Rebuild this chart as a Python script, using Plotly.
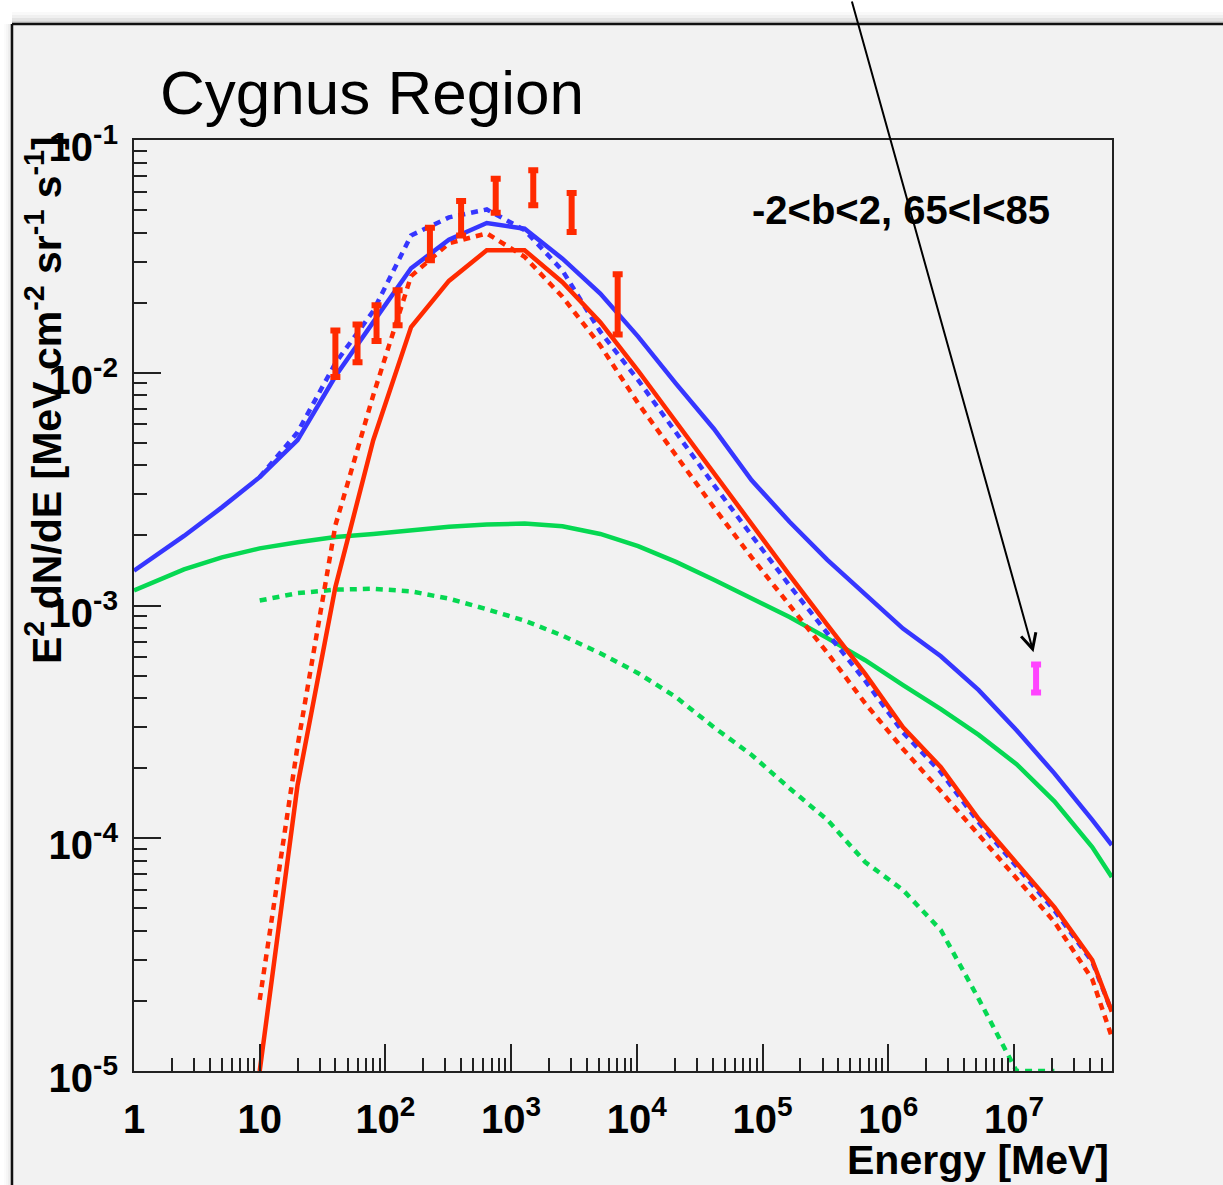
import numpy as np
import plotly.graph_objects as go

# ---------------- data ----------------
energy = [1, 2.5, 5, 10, 20, 40, 80, 160, 320, 640, 1280, 2560, 5120, 10240,
          20480, 40960, 81920, 163840, 327680, 655360, 1310720, 2621440,
          5242880, 10485760, 20971520, 41943040, 6.0e7]

total_solid = [1.41e-3, 1.99e-3, 2.64e-3, 3.56e-3, 5.13e-3, 9.66e-3, 1.65e-2,
               2.81e-2, 3.73e-2, 4.40e-2, 4.16e-2, 3.09e-2, 2.19e-2, 1.43e-2,
               8.98e-3, 5.75e-3, 3.45e-3, 2.29e-3, 1.57e-3, 1.11e-3, 7.96e-4,
               6.05e-4, 4.33e-4, 2.91e-4, 1.90e-4, 1.20e-4, 9.35e-5]

total_dotted = [None, None, None, 3.56e-3, 5.55e-3, 1.10e-2, 1.84e-2, 3.89e-2,
                4.65e-2, 5.03e-2, 4.10e-2, 2.75e-2, 1.50e-2, 9.3e-3, 5.5e-3,
                3.3e-3, 2.0e-3, 1.22e-3, 7.6e-4, 4.75e-4, 2.85e-4, 1.92e-4,
                1.17e-4, 7.6e-5, 4.9e-5, 2.95e-5, 1.8e-5]

pi0_solid = [None, None, None, 1.0e-5, 1.69e-4, 1.20e-3, 5.13e-3, 1.57e-2,
             2.48e-2, 3.36e-2, 3.36e-2, 2.45e-2, 1.65e-2, 1.02e-2, 6.13e-3,
             3.69e-3, 2.22e-3, 1.35e-3, 8.26e-4, 5.08e-4, 3.0e-4, 2.02e-4,
             1.21e-4, 7.80e-5, 5.06e-5, 3.0e-5, 1.80e-5]

pi0_dotted = [None, None, None, 2.02e-5, 2.49e-4, 2.21e-3, 8.0e-3, 2.60e-2,
              3.60e-2, 3.97e-2, 3.15e-2, 2.12e-2, 1.31e-2, 7.39e-3, 4.42e-3,
              2.64e-3, 1.61e-3, 1.0e-3, 6.26e-4, 3.80e-4, 2.42e-4, 1.59e-4,
              1.03e-4, 6.71e-5, 4.37e-5, 2.48e-5, 1.40e-5]

ic_solid = [1.16e-3, 1.43e-3, 1.61e-3, 1.76e-3, 1.87e-3, 1.97e-3, 2.03e-3,
            2.10e-3, 2.18e-3, 2.23e-3, 2.25e-3, 2.19e-3, 2.03e-3, 1.80e-3,
            1.54e-3, 1.29e-3, 1.07e-3, 8.93e-4, 7.24e-4, 5.82e-4, 4.55e-4,
            3.59e-4, 2.78e-4, 2.08e-4, 1.44e-4, 9.16e-5, 6.81e-5]

ic_dotted = [None, None, None, 1.05e-3, 1.13e-3, 1.17e-3, 1.18e-3, 1.15e-3,
             1.07e-3, 9.64e-4, 8.61e-4, 7.42e-4, 6.24e-4, 5.12e-4, 4.04e-4,
             3.00e-4, 2.28e-4, 1.64e-4, 1.20e-4, 7.90e-5, 5.99e-5, 4.03e-5,
             2.04e-5, 1.0e-5, 1.0e-5, None, None]

egret_E = [40, 60, 85, 125, 226, 400, 754, 1500, 3030, 7040]
egret_lo = [9.59e-3, 1.11e-2, 1.37e-2, 1.60e-2, 3.04e-2, 3.89e-2, 4.87e-2,
            5.24e-2, 4.02e-2, 1.46e-2]
egret_hi = [1.52e-2, 1.61e-2, 1.95e-2, 2.26e-2, 4.20e-2, 5.47e-2, 6.82e-2,
            7.41e-2, 5.92e-2, 2.65e-2]

milagro_E = [1.5e7]
milagro_lo = [4.23e-4]
milagro_hi = [5.58e-4]

x_tickvals = [1, 10, 1e2, 1e3, 1e4, 1e5, 1e6, 1e7]
x_ticktext = ["1", "10", "10<sup>2</sup>", "10<sup>3</sup>", "10<sup>4</sup>",
              "10<sup>5</sup>", "10<sup>6</sup>", "10<sup>7</sup>"]
y_tickvals = [1e-5, 1e-4, 1e-3, 1e-2, 1e-1]
y_ticktext = ["10<sup>-5</sup>", "10<sup>-4</sup>", "10<sup>-3</sup>",
              "10<sup>-2</sup>", "10<sup>-1</sup>"]

title_text = "Cygnus Region"
region_text = "-2&lt;b&lt;2, 65&lt;l&lt;85"
x_title = "Energy [MeV]"
y_title = "E<sup>2</sup> dN/dE [MeV cm<sup>-2</sup> sr<sup>-1</sup> s<sup>-1</sup>]"

# ---------------- styling ----------------
BLUE = "#3636ff"
RED = "#ff2a00"
GREEN = "#06d852"
MAGENTA = "#ff44ff"
BG = "#f2f2f2"
FONT = "Liberation Sans"
DOTS = "7px,6px"

W, H = 1223, 1185
ML, MR, MT, MB = 134, 111, 140, 114
PW, PH = W - ML - MR, H - MT - MB


def px_x(p):
    return (p - ML) / PW


def px_y(p):
    return (H - MB - p) / PH


fig = go.Figure()


def curve(y, color, dash):
    fig.add_trace(go.Scatter(x=energy, y=y, mode="lines",
                             line=dict(color=color, width=4.5, dash=dash),
                             showlegend=False, hoverinfo="skip"))


curve(ic_dotted, GREEN, DOTS)
curve(ic_solid, GREEN, "solid")
curve(pi0_dotted, RED, DOTS)
curve(total_dotted, BLUE, DOTS)
curve(pi0_solid, RED, "solid")
curve(total_solid, BLUE, "solid")


def points(E, lo, hi, color):
    mid = [float(np.sqrt(a * b)) for a, b in zip(lo, hi)]
    fig.add_trace(go.Scatter(
        x=E, y=mid, mode="markers",
        marker=dict(size=1, color=color),
        error_y=dict(type="data", symmetric=False,
                     array=[h - m for h, m in zip(hi, mid)],
                     arrayminus=[m - l for m, l in zip(mid, lo)],
                     color=color, thickness=6, width=5),
        showlegend=False, hoverinfo="skip"))


points(egret_E, egret_lo, egret_hi, RED)
points(milagro_E, milagro_lo, milagro_hi, MAGENTA)

minor_x = [m * 10 ** k for k in range(0, 8) for m in range(2, 10) if m * 10 ** k < 6e7]
minor_y = [m * 10.0 ** k for k in range(-5, -1) for m in range(2, 10)]

axis_common = dict(
    type="log", showgrid=False, zeroline=False,
    showline=True, linewidth=2, linecolor="#222", mirror=True,
    ticks="inside", tickwidth=2, tickcolor="#222", ticklen=27,
    tickfont=dict(family=FONT, size=40, color="black", weight="bold"),
)

fig.update_xaxes(
    range=[0, 7.78], tickmode="array", tickvals=x_tickvals, ticktext=x_ticktext,
    ticklabelstandoff=12,
    minor=dict(tickmode="array", tickvals=minor_x, ticks="inside", ticklen=13,
               tickwidth=2, tickcolor="#222", showgrid=False),
    **axis_common)
fig.update_yaxes(
    range=[-5, -1], tickmode="array", tickvals=y_tickvals, ticktext=y_ticktext,
    ticklabelstandoff=6, ticklabelshift=7,
    minor=dict(tickmode="array", tickvals=minor_y, ticks="inside", ticklen=13,
               tickwidth=2, tickcolor="#222", showgrid=False),
    **axis_common)

shapes = []
# white surroundings outside the canvas frame
shapes.append(dict(type="rect", xref="paper", yref="paper", layer="above",
                   x0=px_x(-5), x1=px_x(W + 5), y0=px_y(24), y1=px_y(-5),
                   fillcolor="white", line=dict(width=0)))
shapes.append(dict(type="rect", xref="paper", yref="paper", layer="above",
                   x0=px_x(-5), x1=px_x(12), y0=px_y(H + 5), y1=px_y(-5),
                   fillcolor="white", line=dict(width=0)))
# soft shadow
for i, a in enumerate([0.025, 0.035, 0.05, 0.07]):
    shapes.append(dict(type="rect", xref="paper", yref="paper", layer="above",
                       x0=px_x(12), x1=px_x(W + 5), y0=px_y(24), y1=px_y(24 - 12 + i * 3),
                       fillcolor=f"rgba(0,0,0,{a})", line=dict(width=0)))
    shapes.append(dict(type="rect", xref="paper", yref="paper", layer="above",
                       x0=px_x(12 - 8 + i * 2), x1=px_x(12), y0=px_y(H + 5), y1=px_y(24),
                       fillcolor=f"rgba(0,0,0,{a*0.6})", line=dict(width=0)))
# frame lines
shapes.append(dict(type="line", xref="paper", yref="paper", layer="above",
                   x0=px_x(12), x1=px_x(W + 5), y0=px_y(24), y1=px_y(24),
                   line=dict(color="#111", width=2.5)))
shapes.append(dict(type="line", xref="paper", yref="paper", layer="above",
                   x0=px_x(12), x1=px_x(12), y0=px_y(24), y1=px_y(H + 5),
                   line=dict(color="#111", width=2.5)))

annotations = [
    dict(text=title_text, xref="paper", yref="paper", x=px_x(158), y=px_y(93),
         xanchor="left", yanchor="middle", showarrow=False,
         font=dict(family=FONT, size=62, color="black")),
    dict(text=region_text, xref="paper", yref="paper", x=px_x(901), y=px_y(210),
         xanchor="center", yanchor="middle", showarrow=False,
         font=dict(family=FONT, size=40, color="black", weight="bold")),
    dict(text=x_title, xref="paper", yref="paper", x=px_x(1111), y=px_y(1160),
         xanchor="right", yanchor="middle", showarrow=False,
         font=dict(family=FONT, size=41, color="black", weight="bold")),
    dict(text=y_title, xref="paper", yref="paper", x=px_x(44), y=px_y(400),
         xanchor="center", yanchor="middle", showarrow=False, textangle=-90,
         font=dict(family=FONT, size=41, color="black", weight="bold")),
    # arrow pointing at the Milagro point
    dict(text="", x=np.log10(1.43e7), y=np.log10(6.3e-4), xref="x", yref="y",
         showarrow=True, ax=-182, ay=-655, axref="pixel", ayref="pixel",
         arrowhead=5, arrowsize=1.5, arrowwidth=2, arrowcolor="black"),
]

fig.update_layout(
    width=W, height=H, margin=dict(l=ML, r=MR, t=MT, b=MB, pad=0),
    paper_bgcolor=BG, plot_bgcolor=BG, showlegend=False,
    shapes=shapes, annotations=annotations,
)

fig.write_html("out.html")
